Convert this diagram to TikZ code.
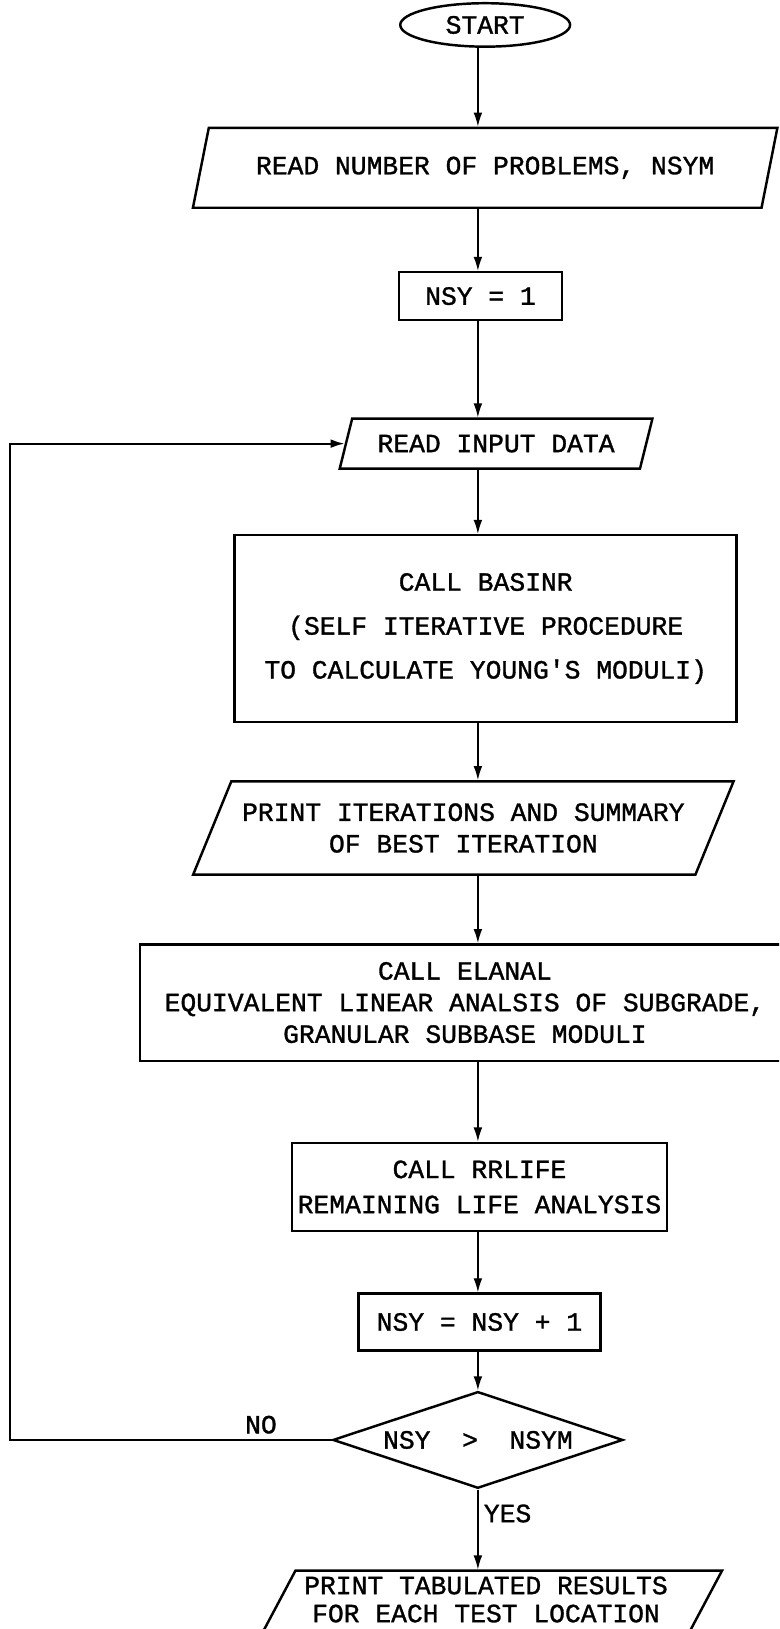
\documentclass[tikz,border=0pt]{standalone}
\usepackage{fontspec}
\setmonofont{Liberation Mono}[FakeBold=1.2]
\usetikzlibrary{arrows.meta, shapes.geometric}

\begin{document}
\begin{tikzpicture}[
    x=0.0208cm, y=-0.0208cm,
    font=\ttfamily\fontsize{15}{18}\selectfont,
    termbox/.style={
        ellipse, draw, line width=1.4pt,
        minimum width=3.4cm, minimum height=0.87cm,
    },
    iobox/.style={
        trapezium, trapezium left angle=65, trapezium right angle=115,
        trapezium stretches body, draw, line width=1.4pt, align=center,
    },
    procbox/.style={
        rectangle, draw, line width=1.4pt, align=center,
    },
    testbox/.style={
        diamond, aspect=3, draw, line width=1.4pt,
    },
    arr/.style={-{Latex[length=8pt, width=5pt]}, line width=0.8pt},
    looparr/.style={arr, line width=1.2pt},
    tag/.style={inner sep=3pt},
]

\path[use as bounding box, clip] (0,0) rectangle (750,1568);

% Nodes
\node[termbox] (start) at (467,24) {START};
\node[iobox, minimum width=11.7cm, minimum height=1.6cm] (nprob) at (467,161.5)
    {READ NUMBER OF PROBLEMS, NSYM};
\node[procbox, minimum width=3.27cm, minimum height=0.96cm] (init) at (462.5,285)
    {NSY = 1};
\node[iobox, trapezium left angle=67, trapezium right angle=113,
      minimum width=6.26cm, minimum height=1cm] (readdata) at (477.5,427)
    {READ INPUT DATA};
\node[procbox, minimum width=10.05cm, minimum height=3.74cm] (basinr) at (467.5,605)
    {CALL BASINR\\[7pt](SELF ITERATIVE PROCEDURE\\[7pt]TO CALCULATE YOUNG'S MODULI)};
\node[iobox, trapezium left angle=58, trapezium right angle=122,
      minimum width=10.82cm, minimum height=1.87cm] (printit) at (446,797)
    {PRINT ITERATIONS AND SUMMARY\\OF BEST ITERATION};
\node[procbox, minimum width=13cm, minimum height=2.33cm] (elanal) at (447.5,965)
    {CALL ELANAL\\EQUIVALENT LINEAR ANALSIS OF SUBGRADE,\\GRANULAR SUBBASE MODULI};
\node[procbox, minimum width=5.35cm, minimum height=1.77cm] (rrlife) at (461.5,1142.5)
    {CALL RRLIFE\\[2pt]REMAINING LIFE ANALYSIS};
\node[procbox, minimum width=4.85cm, minimum height=1.14cm] (incr) at (461.5,1272.5)
    {NSY = NSY + 1};
\node[testbox, minimum width=5.6cm, minimum height=1.83cm] (done) at (460,1386)
    {NSY\ \ >\ \ NSYM};
\node[iobox, trapezium left angle=62, trapezium right angle=118,
      minimum width=9.45cm, minimum height=1.7cm,
      font=\ttfamily\fontsize{15}{16}\selectfont] (tabres) at (467.8,1553)
    {PRINT TABULATED RESULTS\\FOR EACH TEST LOCATION\\\mbox{}};

% Main flow arrows, all on one vertical
\coordinate (axis) at (460,0);
\foreach \a/\b in {start/nprob, nprob/init, init/readdata, readdata/basinr,
                   basinr/printit, printit/elanal, elanal/rrlife, rrlife/incr, incr/done}
    \draw[arr] (axis |- \a.south) -- (axis |- \b.north);

\draw[arr] (axis |- done.south) -- node[tag, right, pos=0.3] {YES} (axis |- tabres.north);

% Loop back for the next problem
\coordinate (leftx) at (10,0);
\draw[looparr] (done.west) -- node[tag, above, pos=0.22] {NO} (done.west -| leftx)
    |- (readdata.west);

\end{tikzpicture}
\end{document}
